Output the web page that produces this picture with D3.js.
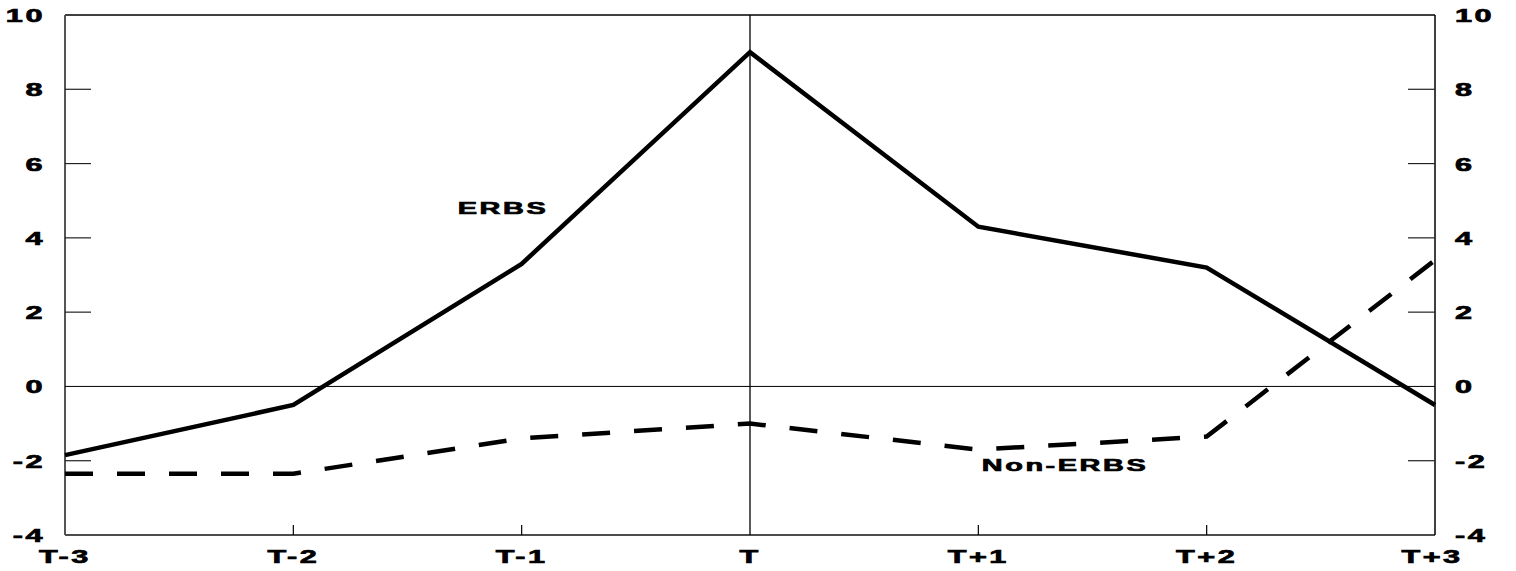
<!DOCTYPE html>
<html><head><meta charset="utf-8">
<script src="https://cdn.jsdelivr.net/npm/d3@7"></script>
<style>body{margin:0;background:#fff}svg{display:block}text{font-family:"Liberation Sans",Arial,sans-serif;font-weight:bold;fill:#000;stroke:#000;stroke-width:0.7px}</style>
</head><body><svg id="c" width="1516" height="571"></svg>
<script>
const categories = ["T-3","T-2","T-1","T","T+1","T+2","T+3"];
const erbs = [-1.85, -0.5, 3.3, 9.0, 4.3, 3.2, -0.5];
const nonErbs = [-2.35, -2.35, -1.4, -1.0, -1.7, -1.35, 3.4];
const yTicks = [-4, -2, 0, 2, 4, 6, 8, 10];

const svg = d3.select("#c");
const L = 65, R = 1435, T = 15, B = 535;
const x = d3.scalePoint().domain(categories).range([L, R]);
const y = d3.scaleLinear().domain([-4, 10]).range([B, T]);
const SX = 1.7;

function wideText(g, px, py, str, anchor, size) {
  return g.append("g").attr("transform", `translate(${px},${py}) scale(${SX},1)`)
    .append("text").attr("text-anchor", anchor).attr("font-size", size)
    .attr("letter-spacing", 1.5).text(str);
}

// frame
svg.append("line").attr("x1", L).attr("x2", R).attr("y1", T).attr("y2", T).attr("stroke", "#000").attr("stroke-width", 1.5);
svg.append("line").attr("x1", L).attr("x2", R).attr("y1", B).attr("y2", B).attr("stroke", "#111").attr("stroke-width", 1.5);
svg.append("line").attr("x1", L).attr("x2", L).attr("y1", T).attr("y2", B).attr("stroke", "#555").attr("stroke-width", 2);
svg.append("line").attr("x1", R).attr("x2", R).attr("y1", T).attr("y2", B).attr("stroke", "#000").attr("stroke-width", 1.5);

// zero line and vertical at T
svg.append("line").attr("x1", L).attr("x2", R).attr("y1", y(0)).attr("y2", y(0)).attr("stroke", "#000").attr("stroke-width", 1);
svg.append("line").attr("x1", x("T")).attr("x2", x("T")).attr("y1", T).attr("y2", B).attr("stroke", "#000").attr("stroke-width", 1.3);

// y ticks
const inner = yTicks.filter(v => v > -4 && v < 10 && v !== 0);
svg.selectAll(".lt").data(inner).join("line").attr("x1", L).attr("x2", L + 26)
  .attr("y1", d => y(d)).attr("y2", d => y(d)).attr("stroke", "#222").attr("stroke-width", 1.2);
svg.selectAll(".rt").data(inner).join("line").attr("x1", R - 27).attr("x2", R)
  .attr("y1", d => y(d)).attr("y2", d => y(d)).attr("stroke", "#222").attr("stroke-width", 1.2);

// x ticks
svg.selectAll(".xt").data(categories.filter(c => c !== categories[0] && c !== categories[6] && c !== "T"))
  .join("line").attr("x1", d => x(d)).attr("x2", d => x(d)).attr("y1", B).attr("y2", B - 10)
  .attr("stroke", "#000").attr("stroke-width", 1.2);

// y labels
const gl = svg.append("g");
yTicks.forEach(v => {
  wideText(gl, 45, y(v) + 7, String(v), "end", 18);
  wideText(gl, 1455, y(v) + 7, String(v), "start", 18);
});
// x labels
categories.forEach(c => {
  wideText(gl, x(c) + (c === "T+3" ? -3 : 0), 563, c, "middle", 18);
});

// lines
const line = d3.line().x((d, i) => x(categories[i])).y(d => y(d));
svg.append("path").attr("d", line(erbs)).attr("fill", "none").attr("stroke", "#000")
  .attr("stroke-width", 4.5).attr("stroke-linejoin", "miter");
svg.append("path").attr("d", line(nonErbs)).attr("fill", "none").attr("stroke", "#000")
  .attr("stroke-width", 4.5).attr("stroke-dasharray", "28,24");

// series labels
wideText(gl, 503, 214, "ERBS", "middle", 17);
wideText(gl, 1065, 471, "Non-ERBS", "middle", 17);
</script></body></html>
